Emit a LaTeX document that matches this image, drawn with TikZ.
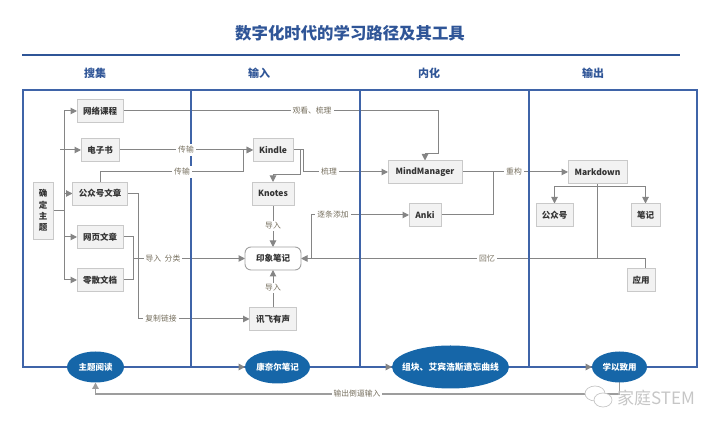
\documentclass[tikz,border=0pt]{standalone}
\usepackage{fontspec}
\setmainfont{Noto Sans CJK SC}
\usepackage{xcolor}
\usetikzlibrary{
  arrows.meta,
  positioning,
  shapes.geometric,
  backgrounds
}
\definecolor{titleblue}{HTML}{2F5597}
\definecolor{frameblue}{HTML}{3F64A8}
\definecolor{phasefill}{HTML}{1666A8}
\definecolor{boxfill}{HTML}{F2F2F2}
\definecolor{boxline}{HTML}{C9C9C9}
\definecolor{connline}{HTML}{858585}
\definecolor{lbltext}{HTML}{77705F}
\newcommand{\fs}[1]{\fontsize{#1}{#1}\selectfont}
\newcommand{\ztext}[1]{\makebox[0pt]{#1}}

\begin{document}
\begin{tikzpicture}[
  x=1pt, y=1pt,
  box/.style={draw=boxline, fill=boxfill, line width=0.9pt, minimum height=23pt, inner sep=0pt, outer sep=0pt, text=black!80, font=\fs{8.5}\bfseries},
  lbl/.style={fill=white, inner sep=2pt, text=lbltext, font=\fs{7.8}},
  head/.style={text=titleblue, font=\fs{11}\bfseries},
  phase/.style={ellipse, fill=phasefill, inner sep=0pt, outer sep=0pt, text=white, font=\fs{8.5}\bfseries},
  conn/.style={draw=connline, line width=1pt},
  arr/.style={conn, -{Triangle[length=6.5pt,width=6.5pt]}},
  chain/.style={draw=frameblue, line width=1.8pt, -{Triangle[length=6.5pt,width=6.5pt,color=connline]}},
  frameline/.style={draw=frameblue, line width=1.3pt},
]
  \useasboundingbox (0,0) rectangle (720,430);

  % Title
  \node[text=titleblue, font=\fs{16.4}\bfseries] (title) at (350,397) {数字化时代的学习路径及其工具};
  \draw[draw=titleblue, line width=1.8pt] (22,375) -- (680,375);
  \node[head] (hcollect) at (95,357) {搜集};
  \node[head] (hinput) at (259,357) {输入};
  \node[head] (hdigest) at (429,357) {内化};
  \node[head] (houtput) at (593,357) {输出};

  % Collect
  \node[box, minimum width=20pt, minimum height=57pt, align=center, font=\fontsize{8.5}{11.4}\selectfont\bfseries] (topic) at (43,219.5) {确\\定\\主\\题};
  \node[box, minimum width=46pt] (course) at (100,319) {网络课程};
  \node[box, minimum width=38pt, below=16pt of course] (ebook) {电子书};
  \node[box, minimum width=55pt, below=20.5pt of ebook] (wechat) {公众号文章};
  \node[box, minimum width=46pt, below=20.5pt of wechat] (web) {网页文章};
  \node[box, minimum width=46pt, below=20pt of web] (misc) {零散文档};

  % Input
  \node[box, minimum width=40pt] (kindle) at (273,280) {Kindle};
  \node[box, minimum width=42pt, below=20.5pt of kindle] (knotes) {Knotes};
  \node[box, minimum width=56pt, rounded corners=6pt, fill=white, draw=boxline!80!black] (yinxiang) at (273,171.5) {印象笔记};
  \node[box, minimum width=47pt] (xunfei) at (273,111) {讯飞有声};

  % Digest
  \node[box, minimum width=74pt] (mm) at (425,258) {MindManager};
  \node[box, minimum width=32pt, below=20pt of mm] (anki) {Anki};

  % Output
  \node[box, minimum width=59pt] (md) at (597.5,258) {Markdown};
  \node[box, minimum width=37pt] (gzh) at (554.5,215) {公众号};
  \node[box, minimum width=29pt] (note) at (645.5,215) {笔记};
  \node[box, minimum width=28pt] (apply) at (641,150) {应用};

  % Phases
  \node[phase, minimum width=57pt, minimum height=31pt] (read) at (95.5,63) {主题阅读};
  \node[phase, minimum width=65pt, minimum height=33pt] (cornell) at (277.5,63) {康奈尔笔记};
  \node[phase, minimum width=117pt, minimum height=43pt, font=\fs{8.8}\bfseries] (chunk) at (450.5,63) {\ztext{组块、艾宾浩斯遗忘曲线}};
  \node[phase, minimum width=55pt, minimum height=31pt] (study) at (619.5,63) {学以致用};

  % Bends
  \coordinate (spine) at (64,219.5);
  \coordinate (ebookstub) at (60,280);
  \coordinate (mmdrop) at (438,276);
  \coordinate (wechatbus) at (243,258);
  \coordinate (copybus) at (138,111);
  \coordinate (importbus) at (133.5,171.5);
  \coordinate (knotesbus) at (300,255);
  \coordinate (mmbus) at (303,258);
  \coordinate (remixbus) at (493,258);
  \coordinate (addbus) at (311,171.5);
  \coordinate (recallbus) at (645.7,171.5);
  \coordinate (mdbranch) at (597.5,243);
  \coordinate (backbus) at (357,36);

  % Edge labels
  \node[lbl] (lwatch) at (312,319) {观看、梳理};
  \node[lbl] (lsend) at (186,280) {传输};
  \node[lbl] (lsendb) at (182,258) {传输};
  \node[lbl] (limport) at (163,171.5) {导入\ \ 分类};
  \node[lbl] (lcopy) at (161,111) {复制链接};
  \node[lbl] (lsort) at (329,258) {梳理};
  \node[lbl] (lknotes) at (273,204) {导入};
  \node[lbl] (lxunfei) at (273,142) {导入};
  \node[lbl] (ladd) at (333,215) {逐条添加};
  \node[lbl] (lrebuild) at (514,258) {重构};
  \node[lbl] (lrecall) at (487,171.5) {回忆};
  \node[lbl] (lback) at (357,36) {输出倒逼输入};

  % Watermark
  \draw[draw=gray!45, fill=white, line width=0.7pt] (595,36.5) ellipse (10pt and 7.5pt);
  \draw[draw=gray!45, fill=white, line width=0.7pt] (603,30) ellipse (9pt and 7pt);
  \node[text=gray!45, font=\fs{17}] (wmark) at (656,32) {家庭STEM};

  \begin{scope}[on background layer]
    % Collect connectors
    \draw[conn] (topic.east) -- (spine);
    \draw[arr] (spine) |- (course.west);
    \draw[arr] (ebookstub) -- (ebook.west);
    \draw[arr] (spine) |- (wechat.west);
    \draw[arr] (spine) |- (web.west);
    \draw[arr] (spine) |- (misc.west);
    \draw[arr] (course.east) -| (mmdrop) -| (mm.north);
    \draw[arr] (ebook.east) -- (kindle.west);
    \draw[arr] (wechat.north) |- (wechatbus) |- (kindle.west);
    \draw[arr] (wechat.east) -| (copybus) -- (xunfei.west);
    \draw[arr] (web.east) -| (importbus) -- (yinxiang.west);
    \draw[conn] (misc.east) -| (importbus);

    % Input connectors
    \draw[arr] (kindle.east) -| (knotesbus) -| (knotes.north);
    \draw[arr] (kindle.east) -| (mmbus) -- (mm.west);
    \draw[arr] (knotes.south) -- (yinxiang.north);
    \draw[arr] (xunfei.north) -- (yinxiang.south);
    \draw[arr] (addbus) |- (anki.west);

    % Digest and output connectors
    \draw[arr] (mm.east) -- (md.west);
    \draw[conn] (anki.east) -| (remixbus);
    \draw[conn] (md.south) -- (md.south |- recallbus);
    \draw[arr] (mdbranch) -| (gzh.north);
    \draw[arr] (mdbranch) -| (note.north);
    \draw[arr] (apply.north -| recallbus) -- (recallbus) -- (yinxiang.east);

    % Frame
    \draw[frameline] (23,63) rectangle (697,340);
    \foreach \x in {191,360,529} {
      \draw[frameline] (\x,340) -- (\x,63);
    }

    % Phase chain
    \draw[chain] (read.east) -- (cornell.west);
    \draw[chain] (cornell.east) -- (chunk.west);
    \draw[chain] (chunk.east) -- (study.west);
    \draw[arr, draw=connline!80, line width=1.4pt] (study.south) |- (backbus) -| (read.south);
  \end{scope}
\end{tikzpicture}
\end{document}
